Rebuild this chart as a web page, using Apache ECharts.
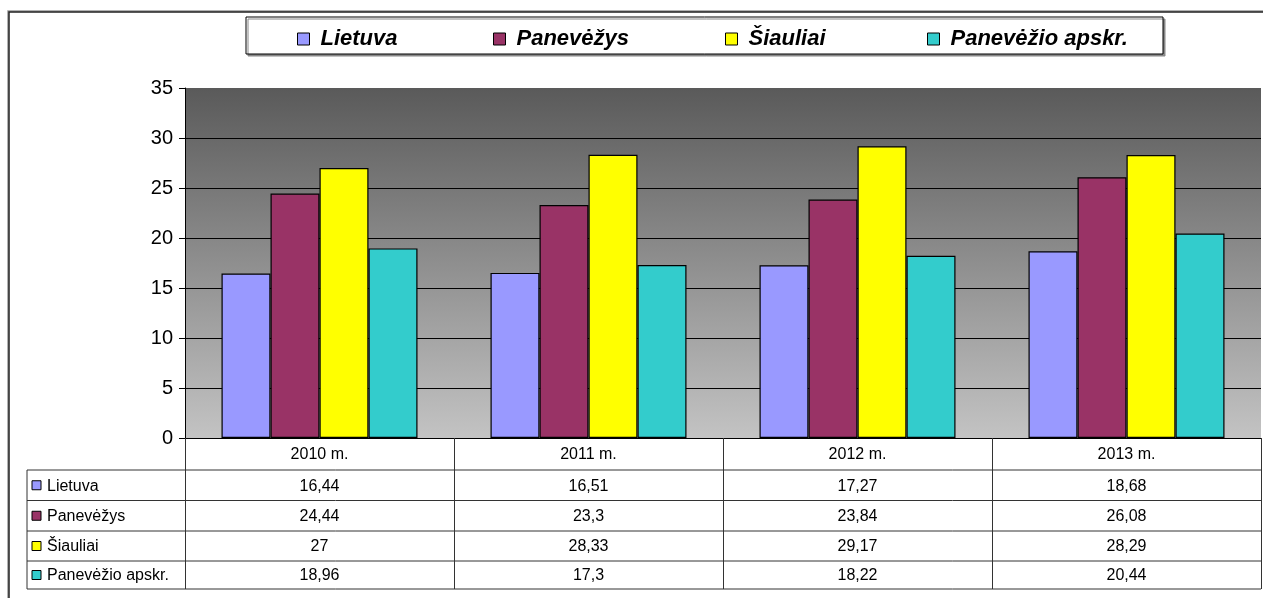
<!DOCTYPE html>
<html>
<head>
<meta charset="utf-8">
<script src="https://cdn.jsdelivr.net/npm/echarts@6/dist/echarts.min.js"></script>
<style>
  html, body { margin: 0; padding: 0; background: #fff; }
  #chart { width: 1263px; height: 598px; }
</style>
</head>
<body>
<div id="chart"></div>
<script>
// Years shown on the category axis and in the table header
const categories = ['2010 m.', '2011 m.', '2012 m.', '2013 m.'];
// Series names
const seriesNames = ['Lietuva', 'Panevėžys', 'Šiauliai', 'Panevėžio apskr.'];
// Values per series, one per year
const lietuva = [16.44, 16.51, 17.27, 18.68];
const panevezys = [24.44, 23.3, 23.84, 26.08];
const siauliai = [27, 28.33, 29.17, 28.29];
const panevezioApskr = [18.96, 17.3, 18.22, 20.44];
// Value axis range
const yMin = 0, yMax = 35, yStep = 5;

const seriesValues = [lietuva, panevezys, siauliai, panevezioApskr];
const colors = ['#9999FF', '#993366', '#FFFF00', '#33CCCC'];
const FONT = 'Liberation Sans, Arial, sans-serif';
// left edge of each legend entry
const legendLefts = [292, 488, 720, 922];

const chart = echarts.init(document.getElementById('chart'));

const option = {
  animation: false,
  color: colors,
  legend: seriesNames.map((name, i) => ({
    data: [name],
    left: legendLefts[i],
    top: 23,
    itemWidth: 12,
    itemHeight: 12,
    icon: 'rect',
    itemStyle: { borderColor: '#000', borderWidth: 1 },
    textStyle: {
      fontFamily: FONT, fontSize: 22, fontWeight: 'bold', fontStyle: 'italic',
      color: '#000', padding: [0, 0, 0, 6]
    },
    selectedMode: false
  })),
  grid: {
    left: 185, right: 2, top: 88, bottom: 160,
    show: true, borderWidth: 0,
    backgroundColor: {
      type: 'linear', x: 0, y: 0, x2: 0, y2: 1,
      colorStops: [{ offset: 0, color: '#5a5a5a' }, { offset: 1, color: '#c3c3c3' }]
    }
  },
  xAxis: {
    type: 'category',
    data: categories,
    axisLine: { show: true, lineStyle: { color: '#000', width: 1 } },
    axisTick: { show: true, length: 151, lineStyle: { color: '#333', width: 1 } },
    axisLabel: { fontFamily: FONT, fontSize: 16, color: '#000', margin: 9 }
  },
  yAxis: {
    type: 'value',
    min: yMin, max: yMax, interval: yStep,
    axisLine: { show: true, lineStyle: { color: '#000', width: 1 } },
    axisTick: { show: true, length: 6, lineStyle: { color: '#000' } },
    axisLabel: { fontFamily: FONT, fontSize: 20, color: '#000', margin: 12 },
    splitLine: {
      show: true,
      lineStyle: { color: ['#000', '#000', '#000', '#000', '#000', '#000', '#000', 'rgba(0,0,0,0)'], width: 1 }
    }
  },
  series: seriesNames.map((name, i) => ({
    name: name,
    type: 'bar',
    data: seriesValues[i],
    barWidth: 49,
    barGap: '0%',
    itemStyle: { color: colors[i], borderColor: '#000', borderWidth: 1.2 }
  }))
};

chart.setOption(option);

// Data table under the plot, aligned to the category axis
const centers = categories.map(c => chart.convertToPixel({ xAxisIndex: 0 }, c));
const band = centers[1] - centers[0];
const right = centers[centers.length - 1] + band / 2;
const y0 = chart.convertToPixel({ yAxisIndex: 0 }, 0);
const tableLeft = 27;
const rowLines = [32, 62.5, 93, 123, 151].map(d => y0 + d);

const fmt = v => String(v).replace('.', ',');
const graphic = [];

// outer frame
graphic.push({
  type: 'rect', z: 0, silent: true,
  shape: { x: 9, y: 12, width: 1400, height: 800 },
  style: { fill: 'none', stroke: '#222', lineWidth: 1.5, shadowColor: '#999', shadowOffsetX: -1, shadowOffsetY: -1 }
});
// legend box
graphic.push({
  type: 'rect', z: 0, silent: true,
  shape: { x: 246, y: 17, width: 917, height: 37 },
  style: { fill: '#fff', stroke: '#000', lineWidth: 1, shadowColor: '#888', shadowOffsetX: 2, shadowOffsetY: 2, shadowBlur: 0 }
});

// horizontal table lines
rowLines.forEach(y => {
  graphic.push({
    type: 'line', z: 5, silent: true,
    shape: { x1: tableLeft, y1: y, x2: right, y2: y },
    style: { stroke: '#333', lineWidth: 1 }
  });
});
// left table border
graphic.push({
  type: 'line', z: 5, silent: true,
  shape: { x1: tableLeft, y1: rowLines[0], x2: tableLeft, y2: rowLines[rowLines.length - 1] },
  style: { stroke: '#333', lineWidth: 1 }
});

seriesNames.forEach((name, r) => {
  const cy = (rowLines[r] + rowLines[r + 1]) / 2;
  graphic.push({
    type: 'rect', z: 6, silent: true,
    shape: { x: 32, y: cy - 4.5, width: 9, height: 9 },
    style: { fill: colors[r], stroke: '#000', lineWidth: 1 }
  });
  graphic.push({
    type: 'text', z: 6, silent: true,
    x: 47, y: cy + 1,
    style: { text: name, fontFamily: FONT, fontSize: 16, fill: '#000', align: 'left', verticalAlign: 'middle' }
  });
  seriesValues[r].forEach((v, c) => {
    graphic.push({
      type: 'text', z: 6, silent: true,
      x: centers[c], y: cy + 1,
      style: { text: fmt(v), fontFamily: FONT, fontSize: 16, fill: '#000', align: 'center', verticalAlign: 'middle' }
    });
  });
});

chart.setOption({ graphic: graphic });
</script>
</body>
</html>
